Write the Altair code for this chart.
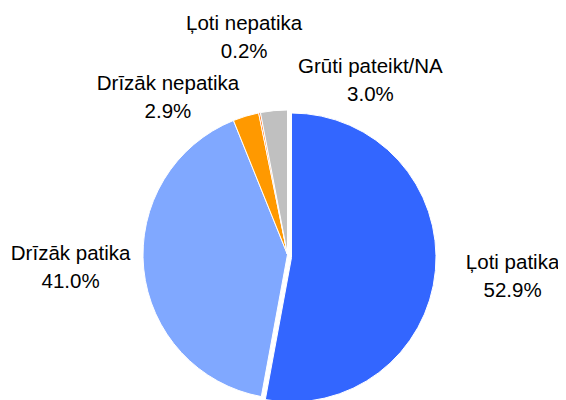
import altair as alt
import pandas as pd

# ---- data ----
categories = ["Ļoti patika", "Drīzāk patika", "Drīzāk nepatika", "Ļoti nepatika", "Grūti pateikt/NA"]
values = [52.9, 41.0, 2.9, 0.2, 3.0]
colors = ["#3366FF", "#80A8FF", "#FF9900", "#FF6600", "#C0C0C0"]

df = pd.DataFrame({"cat": categories, "val": values, "order": list(range(len(categories)))})

# ---- layout ----
CX, CY = 279.5, 246.5      # pie centre (px)
R = 144.5                  # pie radius
LABEL_R = 224              # label radius
EXPLODE = {"Ļoti patika": (4, 3)}
NUDGE = {"Drīzāk nepatika": (-55, 58), "Grūti pateikt/NA": (104, 50),
         "Drīzāk patika": (6, -9), "Ļoti nepatika": (0, 3), "Ļoti patika": (2, 2)}


def lookup_expr(d, idx, default=0):
    expr = str(default)
    for k, v in d.items():
        expr = f"(datum.cat === '{k}' ? {v[idx]} : {expr})"
    return expr


base = (
    alt.Chart(df)
    .transform_window(cum="sum(val)", sort=[alt.SortField("order")], frame=[None, 0])
    .transform_joinaggregate(total="sum(val)")
    .transform_calculate(
        t0="(datum.cum - datum.val) / datum.total * 2 * PI",
        t1="datum.cum / datum.total * 2 * PI",
        tm="(datum.cum - datum.val / 2) / datum.total * 2 * PI",
    )
    .transform_calculate(
        px=f"{CX} + {lookup_expr(EXPLODE, 0)}",
        py=f"{CY} + {lookup_expr(EXPLODE, 1)}",
        lx=f"{CX} + {LABEL_R} * sin(datum.tm) + {lookup_expr(NUDGE, 0)}",
        ly=f"{CY} - {LABEL_R} * cos(datum.tm) + {lookup_expr(NUDGE, 1)}",
        lbl="[datum.cat, format(datum.val, '.1f') + '%']",
    )
)

arcs = base.mark_arc(radius=R, stroke="white", strokeWidth=1).encode(
    theta=alt.Theta("t0:Q", scale=None),
    theta2=alt.Theta2("t1:Q"),
    x=alt.X("px:Q", scale=None, axis=None),
    y=alt.Y("py:Q", scale=None, axis=None),
    color=alt.Color("cat:N", scale=alt.Scale(domain=categories, range=colors), legend=None),
)

labels = base.mark_text(
    font="Liberation Sans", fontSize=20.5, lineHeight=28, align="center", baseline="middle",
    color="#000000", dy=-14,
).encode(
    x=alt.X("lx:Q", scale=None, axis=None),
    y=alt.Y("ly:Q", scale=None, axis=None),
    text=alt.Text("lbl:N"),
)

chart = (
    alt.layer(arcs, labels)
    .properties(width=550, height=392, padding=0, autosize="none", background="white")
    .configure_view(stroke=None)
)

chart.save("out.html", embed_options={"renderer": "svg", "actions": False})
